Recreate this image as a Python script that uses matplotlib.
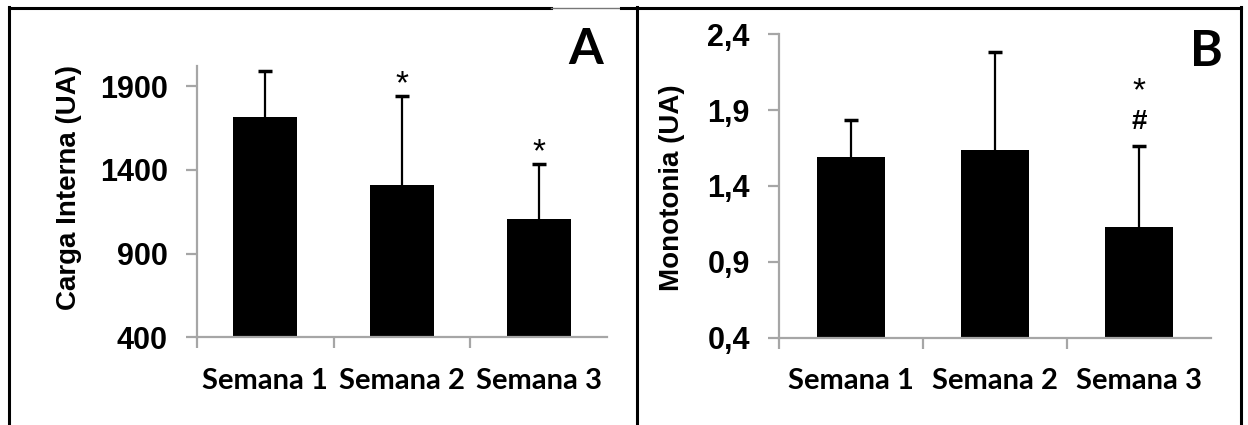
import numpy as np
import matplotlib.pyplot as plt
from matplotlib.lines import Line2D

semanas = ['Semana 1', 'Semana 2', 'Semana 3']

# painel A - carga interna
carga_media = [1713, 1309, 1104]
carga_dp = [279, 533, 329]
carga_ticks = [400, 900, 1400, 1900]
carga_marcas = ['', '*', '*']

# painel B - monotonia
mono_media = [1.59, 1.64, 1.13]
mono_dp = [0.245, 0.645, 0.535]
mono_ticks = [0.4, 0.9, 1.4, 1.9, 2.4]
mono_ticklabels = ['0,4', '0,9', '1,4', '1,9', '2,4']

W, H = 1248, 425
fig = plt.figure(figsize=(W / 100, H / 100), dpi=100)

gray = '#a6a6a6'
tickfont = dict(family='Liberation Sans', weight='bold', size=22)
catfont = dict(family='Lato', weight='bold', size=21)


def painel(ax, media, dp, ylim, ticks, ticklabels, ylabel, labx, laby):
    x = np.arange(len(media))
    ax.bar(x, media, width=0.47, color='black', zorder=2)
    eb = ax.errorbar(x, media, yerr=[np.zeros(len(dp)), dp], fmt='none',
                     ecolor='black', elinewidth=1.6, capsize=5, capthick=2.5, zorder=3)
    eb[1][0].set_visible(False)  # so a tampa de cima
    ax.set_xlim(-0.5, 2.5)
    ax.set_ylim(*ylim)
    for s in ['top', 'right']:
        ax.spines[s].set_visible(False)
    for s in ['left', 'bottom']:
        ax.spines[s].set_color(gray)
        ax.spines[s].set_linewidth(1.6)
    ax.set_yticks(ticks)
    ax.set_yticklabels(ticklabels, fontdict=tickfont)
    ax.tick_params(axis='y', length=8, width=1.6, color=gray, pad=13)
    ax.set_xticks(x)
    ax.set_xticklabels(semanas, fontdict=catfont)
    ax.tick_params(axis='x', which='major', length=0, pad=22)
    ax.set_xticks([-0.5, 0.5, 1.5], minor=True)
    ax.tick_params(axis='x', which='minor', length=8, width=1.6, color=gray)
    ax.set_ylabel(ylabel, fontdict=dict(family='Liberation Sans', weight='bold', size=20))
    ax.yaxis.set_label_coords(labx, laby)
    return x


axA = fig.add_axes([197 / W, 1 - 337.3 / H, 410 / W, (337.3 - 66) / H])
xA = painel(axA, carga_media, carga_dp, (400, 2020), carga_ticks,
            [str(t) for t in carga_ticks], 'Carga Interna (UA)', -0.28, 0.552)
for i, m in enumerate(carga_marcas):
    if m:
        axA.annotate(m, xy=(xA[i], carga_media[i] + carga_dp[i]), xytext=(0, 8),
                     textcoords='offset points', ha='center', va='center',
                     fontsize=24, family='Liberation Sans')

axB = fig.add_axes([779 / W, 1 - 337.5 / H, 432 / W, (337.5 - 34.3) / H])
xB = painel(axB, mono_media, mono_dp, (0.4, 2.4), mono_ticks, mono_ticklabels,
            'Monotonia (UA)', -0.218, 0.495)
topo3 = mono_media[2] + mono_dp[2]
axB.annotate('#', xy=(xB[2], topo3), xytext=(0, 17), textcoords='offset points',
             ha='center', va='center', fontsize=20, weight='bold', family='Liberation Sans')
axB.annotate('*', xy=(xB[2], topo3), xytext=(0, 39), textcoords='offset points',
             ha='center', va='center', fontsize=24, family='Liberation Sans')

fig.text(586 / W, 1 - 50 / H, 'A', ha='center', va='center',
         family='Lato', weight='bold', fontsize=36)
fig.text(1206 / W, 1 - 51 / H, 'B', ha='center', va='center',
         family='Lato', weight='bold', fontsize=36)

# moldura
def linha(x0, y0, x1, y1, lw=2.2, c='black'):
    fig.add_artist(Line2D([x0 / W, x1 / W], [1 - y0 / H, 1 - y1 / H], color=c, lw=lw))

linha(9, 7.5, 551, 7.5)
linha(551, 7.5, 621, 7.5, lw=1.0, c='#777777')
linha(621, 7.5, 1241, 7.5)
linha(9, 7, 9, 425)
linha(637, 7, 637, 425)
linha(1241, 7, 1241, 425)

fig.savefig('out.png', dpi=100)
